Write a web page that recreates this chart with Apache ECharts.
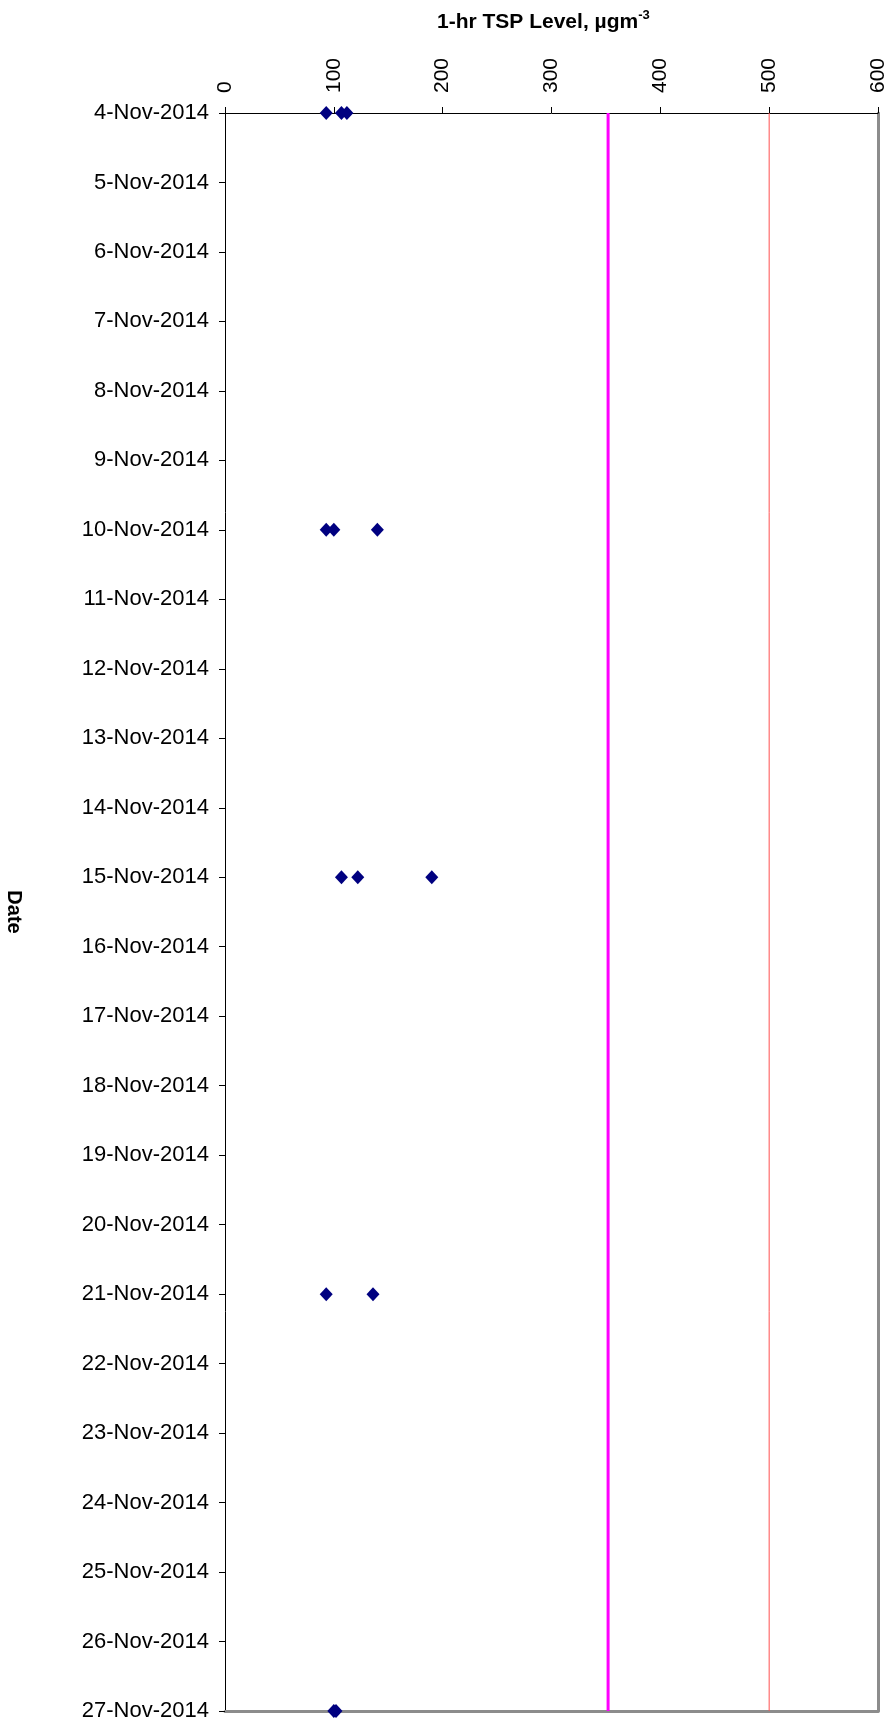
<!DOCTYPE html>
<html>
<head>
<meta charset="utf-8">
<script src="https://cdn.jsdelivr.net/npm/echarts@6/dist/echarts.min.js"></script>
<style>
html,body{margin:0;padding:0;background:#fff;}
#chart{width:893px;height:1727px;}
</style>
</head>
<body>
<div id="chart"></div>
<script>
const dates = ['4-Nov-2014','5-Nov-2014','6-Nov-2014','7-Nov-2014','8-Nov-2014','9-Nov-2014',
  '10-Nov-2014','11-Nov-2014','12-Nov-2014','13-Nov-2014','14-Nov-2014','15-Nov-2014',
  '16-Nov-2014','17-Nov-2014','18-Nov-2014','19-Nov-2014','20-Nov-2014','21-Nov-2014',
  '22-Nov-2014','23-Nov-2014','24-Nov-2014','25-Nov-2014','26-Nov-2014','27-Nov-2014'];
const sampleDates = ['4-Nov-2014','4-Nov-2014','4-Nov-2014',
  '10-Nov-2014','10-Nov-2014','10-Nov-2014',
  '15-Nov-2014','15-Nov-2014','15-Nov-2014',
  '21-Nov-2014','21-Nov-2014',
  '27-Nov-2014','27-Nov-2014'];
const tspValues = [93,107,112, 93,100,140, 107,122,190, 93,136, 100,102];
const actionLevel = 352;
const limitLevel = 500;
const xTicks = [0,100,200,300,400,500,600];

const FONT = '"Liberation Sans", Arial, sans-serif';
const chart = echarts.init(document.getElementById('chart'));
const first = dates[0], last = dates[dates.length-1];

chart.setOption({
  backgroundColor:'#ffffff',
  animation:false,
  grid:{left:225, right:15, top:113, bottom:16, containLabel:false},
  xAxis:[{
    type:'value', position:'top', min:xTicks[0], max:xTicks[xTicks.length-1], interval:100,
    axisLine:{show:true, lineStyle:{color:'#000', width:1}},
    axisTick:{show:true, inside:false, length:6, lineStyle:{color:'#000'}},
    axisLabel:{rotate:-90, fontSize:21, color:'#000', fontFamily:FONT, margin:20},
    splitLine:{show:false}
  },{
    type:'value', position:'bottom', min:xTicks[0], max:xTicks[xTicks.length-1],
    axisLine:{show:true, onZero:false, lineStyle:{color:'#8c8c8c', width:3}},
    axisTick:{show:false}, axisLabel:{show:false}, splitLine:{show:false}
  }],
  yAxis:[{
    type:'category', data:dates, inverse:true, boundaryGap:false,
    axisLine:{show:true, onZero:false, lineStyle:{color:'#000', width:1}},
    axisTick:{show:true, inside:false, length:6, alignWithLabel:true, lineStyle:{color:'#000'}},
    axisLabel:{fontSize:22, color:'#000', fontFamily:FONT, margin:16, interval:0},
    splitLine:{show:false}
  },{
    type:'category', data:dates, inverse:true, boundaryGap:false, position:'right',
    axisLine:{show:true, onZero:false, lineStyle:{color:'#8c8c8c', width:3}},
    axisTick:{show:false}, axisLabel:{show:false}, splitLine:{show:false}
  }],
  series:[{
    name:'Action Level', type:'line', xAxisIndex:0, yAxisIndex:0,
    data:[[actionLevel, first],[actionLevel, last]],
    symbol:'none', lineStyle:{color:'#ff00ff', width:3}, z:1
  },{
    name:'Limit Level', type:'line', xAxisIndex:0, yAxisIndex:0,
    data:[[limitLevel, first],[limitLevel, last]],
    symbol:'none', lineStyle:{color:'#ff5050', width:1}, z:1
  },{
    name:'1-hr TSP', type:'scatter', xAxisIndex:0, yAxisIndex:0,
    data:tspValues.map((v,i)=>[v, sampleDates[i]]),
    symbol:'diamond', symbolSize:[13,14],
    itemStyle:{color:'#000080', opacity:1}, z:5
  }],
  graphic:[{
    type:'text', left:437, top:9,
    style:{
      text:'{a|1-hr TSP Level, µgm}{s|-3}',
      rich:{
        a:{fontSize:21, fontWeight:'bold', fontFamily:FONT, fill:'#000', verticalAlign:'bottom', lineHeight:24},
        s:{fontSize:13, fontWeight:'bold', fontFamily:FONT, fill:'#000', verticalAlign:'top', lineHeight:24, padding:[0,0,10,0]}
      }
    }
  },{
    type:'text', x:14, y:912, rotation:-Math.PI/2,
    style:{text:'Date', fontSize:20, fontWeight:'bold', fontFamily:FONT, fill:'#000',
      align:'center', verticalAlign:'middle'}
  }]
});
</script>
</body>
</html>
